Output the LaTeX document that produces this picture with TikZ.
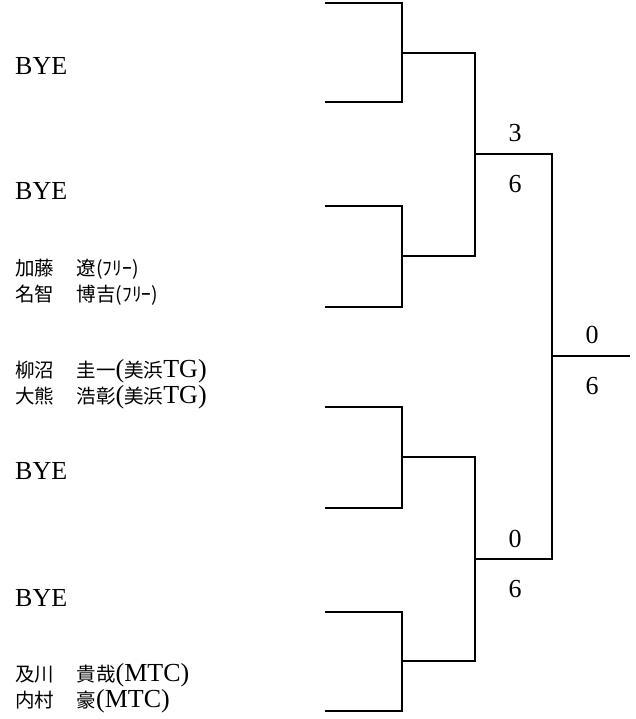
\documentclass[tikz,border=0pt]{standalone}
\usepackage{fontspec}
\setmainfont{Liberation Serif}
\newfontfamily\jp[Scale=0.75]{Noto Sans CJK JP}
\usetikzlibrary{positioning}

% wide space between family and given name
\newcommand{\jsp}{{\jp　}\kern3pt}

\begin{document}
\begin{tikzpicture}[x=1pt,y=-1pt,
    % bracket lines
    bracket/.style={line width=2.6pt,line join=miter},
    % players on the left
    entry/.style={anchor=base west,inner sep=0pt,
      font=\fontsize{26}{28}\selectfont},
    % set scores
    score/.style={anchor=base,inner sep=0pt,
      font=\fontsize{26}{28}\selectfont}]
  \useasboundingbox (0,0) rectangle (636,719);

  % entries
  \node (bye-a) [entry] at (15,75) {BYE};
  \node (bye-b) [entry] at (15,200) {BYE};
  \node (kato) [entry] at (15,275) {{\jp 加藤\jsp 遼(ﾌﾘｰ)}};
  \node (nachi) [entry] at (15,301) {{\jp 名智\jsp 博吉(ﾌﾘｰ)}};
  \node (yaginuma) [entry] at (15,377) {{\jp 柳沼\jsp 圭一}({\jp 美浜}TG)};
  \node (okuma) [entry] at (15,403) {{\jp 大熊\jsp 浩彰}({\jp 美浜}TG)};
  \node (bye-c) [entry] at (15,479) {BYE};
  \node (bye-d) [entry] at (15,606) {BYE};
  \node (oikawa) [entry] at (15,681) {{\jp 及川\jsp 貴哉}(MTC)};
  \node (uchimura) [entry] at (15,707) {{\jp 内村\jsp 豪}(MTC)};

  % slots
  \foreach \i/\y in {1/3,2/102,3/206,4/307,5/407,6/508,7/612,8/711}
    \coordinate (s\i) at (325,\y);
  \coordinate (q1) at (402,53);
  \coordinate (q2) at (402,256);
  \coordinate (q3) at (402,457);
  \coordinate (q4) at (402,661);
  \coordinate (semi-top) at (475,154);
  \coordinate (semi-bot) at (475,559);
  \coordinate (final) at (552,356);
  \coordinate (winner) at (630,356);

  \draw [bracket] (s1) -| (q1) |- (s2);
  \draw [bracket] (s3) -| (q2) |- (s4);
  \draw [bracket] (s5) -| (q3) |- (s6);
  \draw [bracket] (s7) -| (q4) |- (s8);
  \draw [bracket] (q1) -| (semi-top) |- (q2);
  \draw [bracket] (q3) -| (semi-bot) |- (q4);
  \draw [bracket] (semi-top) -| (final) |- (semi-bot);
  \draw [bracket] (final) -- (winner);

  % scores
  \node (st-up) [score] at (515,142) {3};
  \node (st-lo) [score] at (515,193) {6};
  \node (sb-up) [score] at (515,547) {0};
  \node (sb-lo) [score] at (515,597) {6};
  \node (fi-up) [score] at (592,343) {0};
  \node (fi-lo) [score] at (592,394) {6};
\end{tikzpicture}
\end{document}
